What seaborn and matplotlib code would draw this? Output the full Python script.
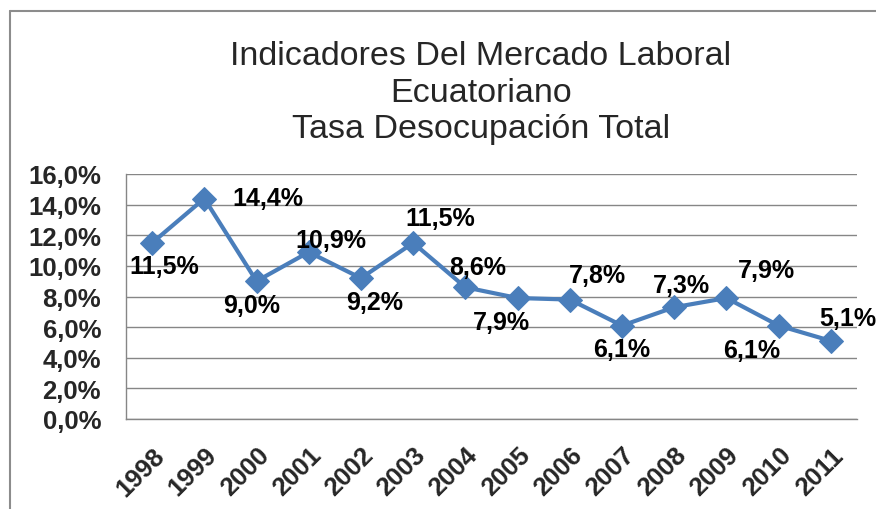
import matplotlib
matplotlib.use("Agg")
import matplotlib.pyplot as plt
import matplotlib.ticker as mticker
from matplotlib.lines import Line2D
import seaborn as sns
import pandas as pd

years = ["1998", "1999", "2000", "2001", "2002", "2003", "2004",
         "2005", "2006", "2007", "2008", "2009", "2010", "2011"]
tasa = [11.5, 14.4, 9.0, 10.9, 9.2, 11.5, 8.6, 7.9, 7.8, 6.1, 7.3, 7.9, 6.1, 5.1]

# label offsets in pixels (dx, dy) relative to each point
label_offsets = [(12, -23), (64, 0), (-5, -24), (22, 12), (14, -24), (27, 25), (12, 20),
                 (-16, -24), (28, 25), (0, -23), (7, 22), (40, 28), (-27, -24), (17, 23)]

def pct(v):
    return f"{v:.1f}%".replace(".", ",")

df = pd.DataFrame({"pos": range(len(years)), "tasa": tasa})

sns.set_style("white")
plt.rcParams["font.family"] = ["Liberation Sans", "DejaVu Sans"]

fig = plt.figure(figsize=(8.76, 5.10), dpi=100)
ax = fig.add_axes([126 / 876, 1 - 420 / 510, (857 - 126) / 876, (420 - 175) / 510])

blue = "#4A7EBB"
sns.lineplot(data=df, x="pos", y="tasa", ax=ax, color=blue, linewidth=3,
             marker="D", markersize=12, markeredgecolor=blue)

for i, v in enumerate(tasa):
    dx, dy = label_offsets[i]
    ax.annotate(pct(v), (i, v), xytext=(dx * 0.72, dy * 0.72), textcoords="offset points",
                ha="center", va="center", fontsize=18, fontweight="bold", color="black")

ax.set_xlim(-0.5, len(years) - 0.5)
ax.set_ylim(0, 16)
ax.set_yticks(range(0, 17, 2))
ax.yaxis.set_major_formatter(mticker.FuncFormatter(lambda v, p: pct(v)))
ax.set_xticks(range(len(years)))
ax.set_xticklabels(years, rotation=45, ha="right", rotation_mode="anchor")
ax.set_xticks([i - 0.5 for i in range(len(years) + 1)], minor=True)
ax.tick_params(axis="x", which="major", length=0, pad=17, labelsize=18.5)
ax.tick_params(axis="x", which="minor", length=6, width=1, color="#868686", direction="out")
ax.tick_params(axis="y", length=6, width=1, color="#868686", direction="out", pad=12, labelsize=18.5)
for lbl in ax.get_xticklabels() + ax.get_yticklabels():
    lbl.set_fontweight("bold")

ax.grid(axis="y", color="#868686", linewidth=1)
ax.set_axisbelow(True)
for side in ["top", "right"]:
    ax.spines[side].set_visible(False)
for side in ["left", "bottom"]:
    ax.spines[side].set_color("#868686")
    ax.spines[side].set_linewidth(1)
ax.set_xlabel("")
ax.set_ylabel("")

fig.text(481 / 876, 1 - 93 / 510,
         "Indicadores Del Mercado Laboral\nEcuatoriano\nTasa Desocupación Total",
         ha="center", va="center", fontsize=24.5, linespacing=1.24)

# outer chart frame (partially visible)
fig.add_artist(Line2D([10 / 876, 10 / 876], [0, 1 - 12 / 510], color="#8c8c8c", linewidth=1.5))
fig.add_artist(Line2D([10 / 876, 1], [1 - 12 / 510, 1 - 12 / 510], color="#8c8c8c", linewidth=1.5))

fig.savefig("out.png", dpi=100)
